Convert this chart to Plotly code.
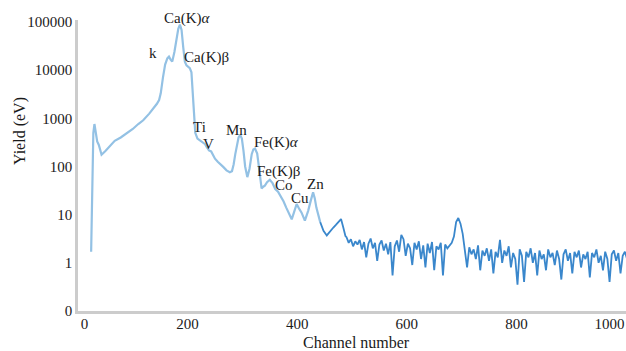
import plotly.graph_objects as go

# ---- data ----
main_channel = [24, 26, 28, 30, 32, 35, 38, 43, 50, 58, 67, 78, 89, 100, 110, 119, 130, 140, 144, 148,
                151, 155, 159, 163, 166, 169, 172, 176, 180, 183, 186, 189, 192, 195, 198, 201, 204, 207,
                210, 212, 214, 218, 222, 227, 232, 235, 239, 243, 246, 250, 255, 259, 265, 271, 277, 281,
                284, 287, 290, 293, 296, 299, 302, 305, 309, 313, 317, 320, 323, 327, 330, 332, 335, 338,
                341, 345, 350, 355, 360, 365, 369, 372, 375, 380, 384, 390, 394, 399, 404, 408, 414, 420,
                425, 429, 432, 435, 442]
main_yield = [1.7, 60, 500, 760, 480, 330, 280, 175, 210, 270, 340, 400, 480, 600, 760, 910, 1250, 1700, 2000, 2400,
              3300, 7000, 13000, 17500, 19000, 16500, 15000, 24000, 45000, 72000, 88000, 68000, 30000, 15000,
              12500, 11800, 11000, 9000, 2400, 1000, 500, 380, 350, 320, 290, 250, 215, 205, 170, 145,
              125, 115, 98, 83, 76, 80, 110, 180, 260, 400, 450, 380, 210, 100, 60, 90, 180, 225, 235, 185,
              100, 65, 35, 38, 40, 47, 53, 45, 34, 30, 25, 22, 19, 14, 11, 8, 11, 16.6, 13, 11, 7.5, 12,
              20, 29, 22, 14, 7]

tail_channel = [442, 448, 454, 460, 466, 471, 475, 480, 484, 488] + list(range(490, 1023, 4))
tail_yield = [7, 4.6, 3.7, 4.6, 5.4, 6.2, 6.9, 8.1, 5.5, 3.6,
              3.4, 2.6, 3.1, 2.2, 2.8, 2.4, 3.0, 1.9, 2.7, 1.3, 2.5, 3.2, 2.0, 2.6, 1.1, 2.4, 2.9, 1.8,
              2.5, 1.5, 2.7, 0.55, 2.2, 2.9, 1.7, 3.8, 3.1, 1.4, 2.5, 2.0, 0.9, 2.6, 1.9, 2.8, 1.2, 2.3,
              0.8, 2.5, 1.6, 2.7, 0.7, 2.2, 1.9, 2.6, 0.55, 2.4, 2.0, 2.3, 2.6, 3.5, 7.0, 8.5, 6.5, 4.0,
              1.8, 0.8, 2.1, 1.5, 1.9, 1.2, 2.3, 0.7, 1.8, 1.4, 2.0, 1.1, 1.9, 0.6, 1.7, 1.3, 3.0, 1.0,
              1.8, 1.4, 2.2, 0.8, 1.6, 1.2, 0.35, 1.9, 1.4, 0.4, 1.7, 1.3, 2.0, 1.0, 1.6, 0.55, 1.8, 1.2,
              1.5, 0.7, 1.9, 1.3, 1.6, 0.9, 1.8, 1.2, 0.45, 1.5, 1.9, 1.1, 1.6, 0.6, 1.7, 1.3, 1.8, 0.8,
              1.5, 1.2, 1.7, 0.5, 1.6, 1.3, 1.9, 1.0, 1.4, 0.7, 1.7, 1.2, 0.4, 1.5, 1.8, 1.1, 1.6, 0.6,
              1.4, 1.7, 1.2, 1.5, 0.8, 1.6, 1.3, 1.4]

peak_labels = ["k", "Ca(K)<i>α</i>", "Ca(K)β", "Ti", "V", "Mn", "Fe(K)<i>α</i>", "Fe(K)β", "Co", "Cu", "Zn"]
peak_channel = [137, 199, 235, 221, 239, 290, 363, 365, 376, 405, 434]
peak_log_yield = [4.35, 5.03, 4.27, 2.81, 2.46, 2.75, 2.50, 1.89, 1.61, 1.354, 1.646]

y_tick_vals = [0.1, 1, 10, 100, 1000, 10000, 100000]
y_tick_text = ["0", "1", "10", "100", "1000", "10000", "100000"]
x_tick_text = ["0", "200", "400", "600", "800", "1000"]
x_tick_pos = [12, 200, 400, 600, 800, 970]

n = min(len(tail_channel), len(tail_yield))
tail_channel = tail_channel[:n]
tail_yield = tail_yield[:n]

FONT = "Liberation Serif"
INK = "#1a1a1a"

fig = go.Figure()
fig.add_trace(go.Scatter(x=main_channel, y=main_yield, mode="lines",
                         line=dict(color="#93c1e4", width=2.2), showlegend=False))
fig.add_trace(go.Scatter(x=tail_channel, y=tail_yield, mode="lines",
                         line=dict(color="#3a87cc", width=1.8), showlegend=False))

for t, cx, ly in zip(peak_labels, peak_channel, peak_log_yield):
    fig.add_annotation(x=cx, y=ly, xref="x", yref="y", text=t, showarrow=False,
                       yshift=1.5 if "Ca(K)<i>" in t else 0,
                       font=dict(family=FONT, size=15, color=INK))

W, H = 626, 351
L, R, T, B = 78, 0, 20, 40


def px_to_paper(px, py):
    return (px - L) / (W - L - R), 1 - (py - T) / (H - T - B)


yx, yy = px_to_paper(20, 131)
fig.add_annotation(x=yx, y=yy, xref="paper", yref="paper", text="Yield (eV)", showarrow=False,
                   textangle=-90, xanchor="center", yanchor="middle",
                   font=dict(family=FONT, size=16, color=INK))
cx_, cy_ = px_to_paper(356, 342)
fig.add_annotation(x=cx_, y=cy_, xref="paper", yref="paper", text="Channel number", showarrow=False,
                   xanchor="center", yanchor="middle",
                   font=dict(family=FONT, size=16, color=INK))

fig.update_layout(
    width=W, height=H,
    margin=dict(l=L, r=R, t=T, b=B),
    plot_bgcolor="white", paper_bgcolor="white",
    font=dict(family=FONT, size=15, color=INK),
    xaxis=dict(range=[0, 1000], showgrid=False, zeroline=False, showline=True,
               linecolor="#cccccc", linewidth=2.5, ticks="",
               tickvals=x_tick_pos, ticktext=x_tick_text, ticklabeloverflow="allow",
               ticklabelstandoff=-3,
               tickfont=dict(family=FONT, size=15, color=INK)),
    yaxis=dict(type="log", range=[-1, 5.04], showgrid=False, zeroline=False, showline=True,
               linecolor="#cccccc", linewidth=2.5, ticks="",
               tickvals=y_tick_vals, ticktext=y_tick_text,
               tickfont=dict(family=FONT, size=15, color=INK)),
)

fig.write_html("out.html", config={"displayModeBar": False},
               post_script="document.body.style.margin='0';document.body.style.overflow='hidden';")
